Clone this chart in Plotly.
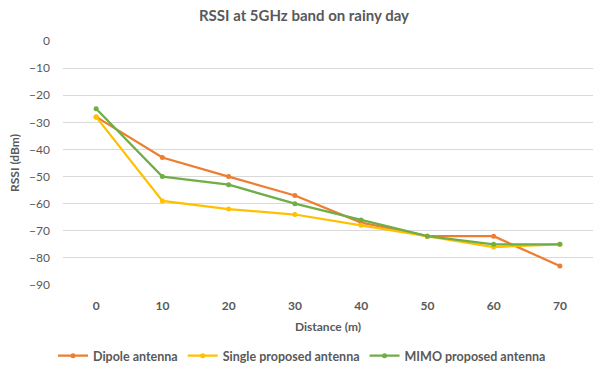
import plotly.graph_objects as go

distance = ["0", "10", "20", "30", "40", "50", "60", "70"]
dipole = [-28, -43, -50, -57, -67, -72, -72, -83]
single = [-28, -59, -62, -64, -68, -72, -76, -75]
mimo = [-25, -50, -53, -60, -66, -72, -75, -75]
y_ticks = [0, -10, -20, -30, -40, -50, -60, -70, -80, -90]

FONT = "Lato"
GRAY = "#595959"

fig = go.Figure()
for name, vals, col in [("Dipole antenna", dipole, "#ED7D31"),
                        ("Single proposed antenna", single, "#FFC000"),
                        ("MIMO proposed antenna", mimo, "#70AD47")]:
    fig.add_trace(go.Scatter(x=distance, y=vals, name="<b>" + name + "</b>",
                             mode="lines+markers",
                             line=dict(color=col, width=2.25),
                             marker=dict(color=col, size=5)))

fig.update_layout(
    width=608, height=371,
    margin=dict(l=63, r=15, t=41, b=86, autoexpand=False),
    paper_bgcolor="white", plot_bgcolor="white",
    font=dict(family=FONT, color=GRAY, size=12),
    title=dict(text="<b>RSSI at 5GHz band on rainy day</b>", x=0.5, xanchor="center",
               y=1 - 16 / 371, yanchor="middle", font=dict(size=15, color=GRAY, family=FONT)),
    legend=dict(orientation="h", x=(302 - 63) / 530, xanchor="center", y=-(356 - 285) / 244,
                yanchor="middle", font=dict(size=12.5, color=GRAY, family=FONT),
                itemwidth=30, tracegroupgap=0),
    xaxis=dict(type="category", range=[-0.5, 7.5], showgrid=False, showline=False,
               zeroline=False, ticks="", tickfont=dict(size=12, family=FONT, color=GRAY),
               tickprefix="<b>", ticksuffix="</b>", ticklabelstandoff=12,
               title=dict(text="<b>Distance (m)</b>", font=dict(size=12, family=FONT, color=GRAY),
                          standoff=10)),
    yaxis=dict(range=[-90, 0], tickvals=y_ticks, showgrid=True, gridcolor="#D9D9D9",
               gridwidth=1, zeroline=False, showline=False, ticks="",
               tickfont=dict(size=12, family=FONT, color=GRAY),
               tickprefix="<b>", ticksuffix="</b>", ticklabelstandoff=12,
               title=dict(text="<b>RSSI (dBm)</b>", font=dict(size=12, family=FONT, color=GRAY),
                          standoff=6)),
)
fig.write_html("out.html")
